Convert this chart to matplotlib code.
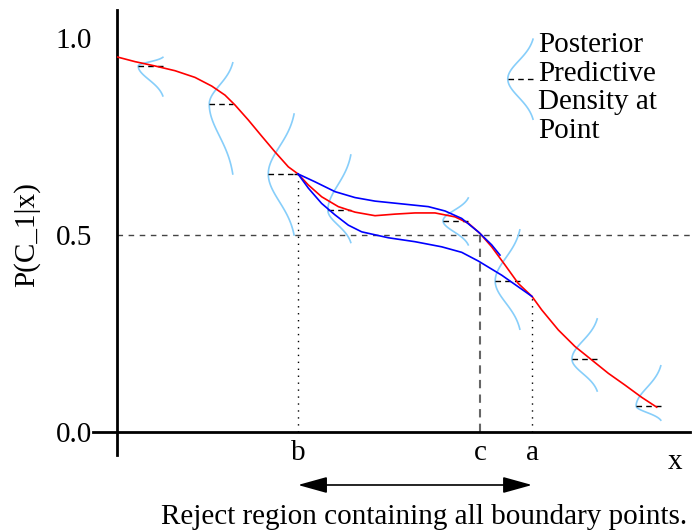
import numpy as np
import matplotlib
matplotlib.use("Agg")
import matplotlib.pyplot as plt

plt.rcParams["font.family"] = ["Liberation Serif", "DejaVu Serif"]
FS = 21

# boundary points on the x axis
b_x = 3.159
c_x = 6.335
a_x = 7.243

# red curve: P(C_1|x) from the mean model
red_x = [0.0, 0.314, 0.663, 1.012, 1.361, 1.653, 1.885, 2.059, 2.291, 2.525,
         2.757, 2.990, 3.159, 3.339, 3.572, 3.862, 4.154, 4.503, 4.852, 5.201,
         5.550, 5.899, 6.131, 6.335, 6.539, 6.771, 7.003, 7.243, 7.412, 7.702,
         7.993, 8.284, 8.574, 8.866, 9.157, 9.419]
red_y = [0.952, 0.940, 0.929, 0.917, 0.900, 0.878, 0.855, 0.830, 0.792, 0.751,
         0.711, 0.673, 0.655, 0.627, 0.597, 0.572, 0.558, 0.549, 0.553, 0.556,
         0.556, 0.546, 0.530, 0.504, 0.470, 0.424, 0.377, 0.344, 0.310, 0.259,
         0.217, 0.183, 0.149, 0.119, 0.088, 0.063]

# blue curves: alternative boundaries
blue_up_x = [3.159, 3.455, 3.805, 4.154, 4.503, 4.969, 5.433, 5.724, 6.016,
             6.305, 6.539, 6.684]
blue_up_y = [0.655, 0.635, 0.610, 0.595, 0.586, 0.579, 0.572, 0.561, 0.542,
             0.508, 0.475, 0.449]
blue_lo_x = [3.159, 3.339, 3.572, 3.805, 4.037, 4.271, 4.735, 5.201, 5.667,
             6.016, 6.305, 6.714, 7.243]
blue_lo_y = [0.655, 0.619, 0.580, 0.551, 0.525, 0.508, 0.493, 0.483, 0.470,
             0.456, 0.434, 0.398, 0.344]

# posterior predictive density glyphs: left x, end x, mean, top, bottom
dens_left = [0.37, 1.61, 2.64, 3.68, 5.69, 6.60, 7.94, 9.06]
dens_end = [0.80, 2.02, 3.09, 4.08, 6.13, 7.03, 8.38, 9.49]
dens_mean = [0.929, 0.832, 0.655, 0.563, 0.536, 0.383, 0.185, 0.066]
dens_top = [0.951, 0.937, 0.807, 0.703, 0.594, 0.513, 0.287, 0.168]
dens_bot = [0.853, 0.655, 0.500, 0.481, 0.475, 0.261, 0.104, 0.030]

# legend glyph
leg_left, leg_end, leg_mean, leg_top, leg_bot = 6.82, 7.26, 0.896, 0.997, 0.794
legend_text = "Posterior\nPredictive\nDensity at\nPoint"

fig = plt.figure(figsize=(6.94, 5.32), dpi=100)
ax = fig.add_axes([117 / 694, 100 / 532, 573 / 694, 394 / 532])
ax.set_xlim(0, 10)
ax.set_ylim(0, 1)
for s in ax.spines.values():
    s.set_visible(False)


def density(left, end, mean, top, bot, k=2.2):
    w = (end - left) / (1 - np.exp(-k * k / 2))
    yy = np.linspace(top, bot, 80)
    sd = np.where(yy > mean, (top - mean) / k, (mean - bot) / k)
    xx = left + w - w * np.exp(-((yy - mean) / sd) ** 2 / 2)
    ax.plot(xx, yy, color="#87cefa", lw=1.2, clip_on=False, zorder=2)
    ax.plot([left, end], [mean, mean], color="black", lw=1,
            ls=(0, (4, 3)), clip_on=False, zorder=3)


for i in range(len(dens_mean)):
    density(dens_left[i], dens_end[i], dens_mean[i], dens_top[i], dens_bot[i])
# dash at b reaches the curve
ax.plot([dens_end[2], b_x], [dens_mean[2]] * 2, color="black", lw=1,
        ls=(0, (4, 3)))
density(leg_left, leg_end, leg_mean, leg_top, leg_bot)
ax.text(7.35, 0.873, legend_text, fontsize=FS, ha="left", va="center",
        linespacing=1.12)

# reference lines
ax.plot([0, 10], [0.5, 0.5], color="#444444", lw=1, ls=(0, (4, 4)), zorder=1)
ax.plot([b_x, b_x], [0, 0.655], color="black", lw=1, ls=(0, (1, 4)))
ax.plot([a_x, a_x], [0, 0.344], color="black", lw=1, ls=(0, (1, 4)))
ax.plot([c_x, c_x], [0, 0.5], color="#666666", lw=1.5, ls=(0, (4, 3)))

ax.plot(red_x, red_y, color="red", lw=1.2, zorder=4)
ax.plot(blue_up_x, blue_up_y, color="blue", lw=1.2, zorder=5)
ax.plot(blue_lo_x, blue_lo_y, color="blue", lw=1.2, zorder=5)

# axis lines
ax.plot([0, 0], [-0.058, 1.071], color="black", lw=2, clip_on=False)
ax.plot([-0.42, 10], [0, 0], color="black", lw=2, clip_on=False)

ax.set_yticks([0, 0.5, 1.0], ["0.0", "0.5", "1.0"])
ax.set_xticks([b_x, c_x, a_x], ["b", "c", "a"])
ax.tick_params(axis="y", length=0, pad=18, labelsize=FS)
ax.tick_params(axis="x", length=0, pad=6, labelsize=FS)
ax.text(9.74, -0.076, "x", fontsize=FS, ha="center", va="center")
ax.set_ylabel("P(C_1|x)", fontsize=FS, va="center")
ax.yaxis.set_label_coords(-0.157, 0.5)

# reject region arrow
ax.annotate("", xy=(a_x, -0.1345), xytext=(b_x, -0.1345),
            arrowprops=dict(arrowstyle="<|-|>,head_length=1.8,head_width=0.5",
                            color="black", lw=1.2, shrinkA=0, shrinkB=0),
            annotation_clip=False)
fig.text(424 / 694, 1 - 517 / 532, "Reject region containing all boundary points.",
         fontsize=FS, ha="center", va="center")

fig.savefig("out.png", dpi=100)
